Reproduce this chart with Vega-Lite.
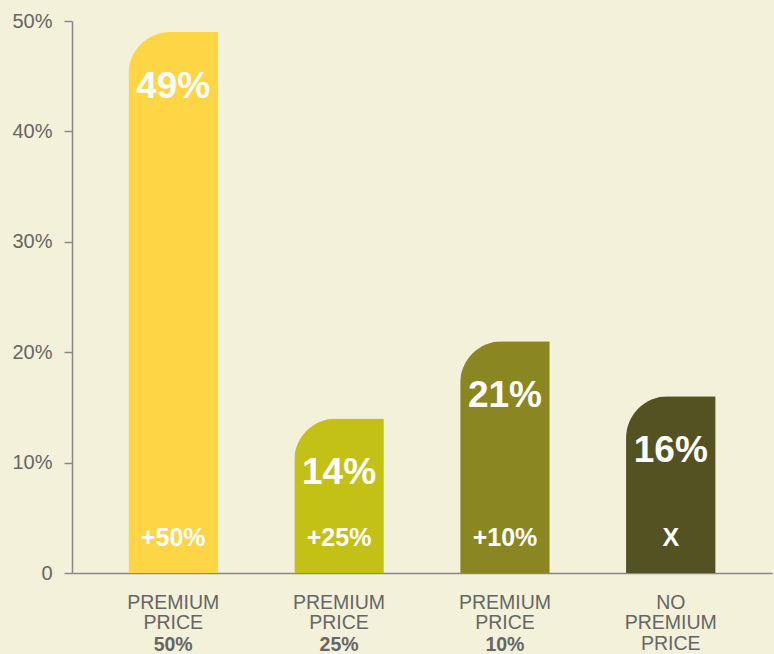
{
  "$schema": "https://vega.github.io/schema/vega-lite/v6.json",
  "width": 700,
  "height": 552,
  "autosize": {"type": "none"},
  "padding": {"left": 72, "top": 21, "right": 2, "bottom": 81},
  "background": "#f3f1da",
  "config": {
    "view": {"stroke": null},
    "font": "Liberation Sans",
    "axis": {"labelFont": "Liberation Sans"}
  },
  "data": {
    "values": [
      {"cat": "PREMIUM PRICE 50%", "value": 49, "label": "49%", "premium": "+50%", "bold": "50%"},
      {"cat": "PREMIUM PRICE 25%", "value": 14, "label": "14%", "premium": "+25%", "bold": "25%"},
      {"cat": "PREMIUM PRICE 10%", "value": 21, "label": "21%", "premium": "+10%", "bold": "10%"},
      {"cat": "NO PREMIUM PRICE", "value": 16, "label": "16%", "premium": "X", "bold": ""}
    ]
  },
  "encoding": {
    "x": {
      "field": "cat",
      "type": "nominal",
      "sort": null,
      "scale": {"paddingInner": 0.46, "paddingOuter": 0.34},
      "axis": {
        "title": null,
        "ticks": false,
        "domainColor": "#888888",
        "domainWidth": 1.5,
        "labelAngle": 0,
        "labelColor": "#666666",
        "labelFontSize": 19.5,
        "labelLineHeight": 20.5,
        "labelPadding": 20,
        "labelExpr": "datum.value == 'NO PREMIUM PRICE' ? ['NO', 'PREMIUM', 'PRICE'] : ['PREMIUM', 'PRICE']"
      }
    }
  },
  "layer": [
    {
      "mark": {"type": "bar", "cornerRadiusTopLeft": 42},
      "encoding": {
        "y": {
          "field": "value",
          "type": "quantitative",
          "scale": {"domain": [0, 50], "nice": false},
          "axis": {
            "title": null,
            "grid": false,
            "values": [0, 10, 20, 30, 40, 50],
            "domainColor": "#888888",
            "domainWidth": 1.5,
            "tickColor": "#888888",
            "tickWidth": 1.5,
            "tickSize": 8,
            "labelColor": "#666666",
            "labelFontSize": 20,
            "labelPadding": 12,
            "labelExpr": "datum.value == 0 ? '0' : datum.value + '%'"
          }
        },
        "color": {
          "field": "cat",
          "type": "nominal",
          "sort": null,
          "legend": null,
          "scale": {"range": ["#fed545", "#c4c116", "#8a8723", "#545222"]}
        }
      }
    },
    {
      "mark": {"type": "text", "color": "white", "fontWeight": "bold", "fontSize": 37, "baseline": "middle", "dy": 55},
      "encoding": {
        "y": {"field": "value", "type": "quantitative"},
        "text": {"field": "label"}
      }
    },
    {
      "mark": {"type": "text", "color": "white", "fontWeight": "bold", "fontSize": 25, "baseline": "middle"},
      "encoding": {
        "y": {"datum": 3.15},
        "text": {"field": "premium"}
      }
    },
    {
      "mark": {"type": "text", "color": "#666666", "fontWeight": "bold", "fontSize": 19.5, "baseline": "middle"},
      "encoding": {
        "y": {"datum": -6.55},
        "text": {"field": "bold"}
      }
    }
  ]
}
